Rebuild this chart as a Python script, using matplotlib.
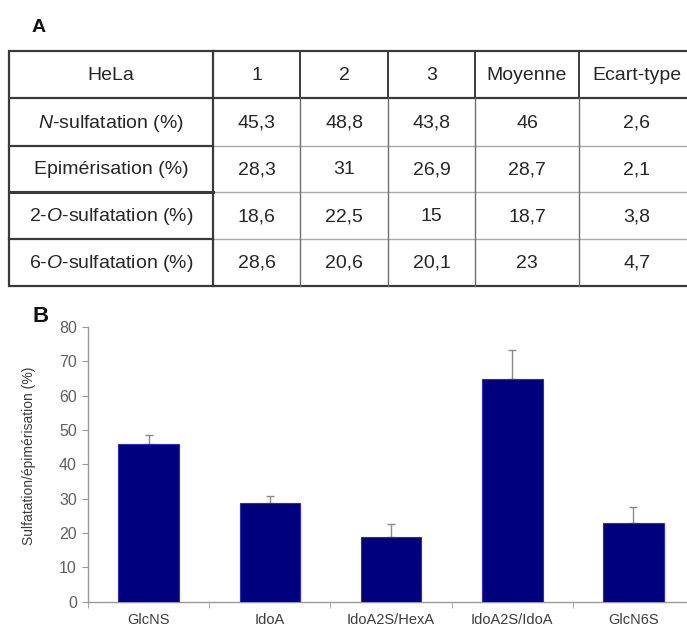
import matplotlib
matplotlib.use("Agg")
import matplotlib.pyplot as plt
import numpy as np

plt.rcParams['font.family'] = ['Liberation Sans', 'DejaVu Sans']
plt.rcParams['mathtext.fontset'] = 'custom'
plt.rcParams['mathtext.rm'] = 'Liberation Sans'
plt.rcParams['mathtext.it'] = 'Liberation Sans:italic'

# ---- Table data (panel A) ----
table_header = ["HeLa", "1", "2", "3", "Moyenne", "Ecart-type"]
row_labels = ["$\\mathit{N}$-sulfatation (%)", "Epimérisation (%)",
              "2-$\\mathit{O}$-sulfatation (%)", "6-$\\mathit{O}$-sulfatation (%)"]
rep1 = ["45,3", "28,3", "18,6", "28,6"]
rep2 = ["48,8", "31", "22,5", "20,6"]
rep3 = ["43,8", "26,9", "15", "20,1"]
moyenne = ["46", "28,7", "18,7", "23"]
ecart = ["2,6", "2,1", "3,8", "4,7"]

# ---- Bar data (panel B) ----
categories = ["GlcNS", "IdoA", "IdoA2S/HexA", "IdoA2S/IdoA", "GlcN6S"]
means = [46.0, 28.7, 18.7, 64.8, 23.0]
errors = [2.6, 2.1, 3.8, 8.6, 4.7]
yticks = [0, 10, 20, 30, 40, 50, 60, 70, 80]

W, H = 687, 626
fig = plt.figure(figsize=(W / 100, H / 100), dpi=100)

# overlay axes in pixel coords for the table
ov = fig.add_axes([0, 0, 1, 1])
ov.set_xlim(0, W)
ov.set_ylim(H, 0)
ov.axis('off')

col_x = [9, 213, 300, 388, 475, 579, 700]
row_y = [51, 98, 146, 192, 239, 286]
dark = '#3a3a3a'
light = '#a8a8a8'

# horizontal lines
for i, y in enumerate(row_y):
    if i in (0, 1, len(row_y) - 1):
        ov.plot([col_x[0], col_x[-1]], [y, y], color=dark, lw=1.6, solid_capstyle='butt')
    else:
        ov.plot([col_x[1], col_x[-1]], [y, y], color=light, lw=1.0)
        ov.plot([col_x[0], col_x[1]], [y, y], color=dark, lw=1.6 if i != 3 else 2.2)
# vertical lines
for j, x in enumerate(col_x[:-1]):
    if j <= 1:
        ov.plot([x, x], [row_y[0], row_y[-1]], color=dark, lw=1.6)
    else:
        ov.plot([x, x], [row_y[0], row_y[1]], color=dark, lw=1.4)
        ov.plot([x, x], [row_y[1], row_y[-1]], color='#707070', lw=1.0)

fs_tab = 14
cols = [row_labels, rep1, rep2, rep3, moyenne, ecart]
centers_x = [(col_x[j] + col_x[j + 1]) / 2 for j in range(6)]
centers_x[5] = 637
for j in range(6):
    ov.text(centers_x[j], (row_y[0] + row_y[1]) / 2 + 1, table_header[j],
            ha='center', va='center', fontsize=fs_tab, color='#262626')
    for i in range(4):
        ov.text(centers_x[j], (row_y[i + 1] + row_y[i + 2]) / 2 + 1, cols[j][i],
                ha='center', va='center', fontsize=fs_tab, color='#262626')

ov.text(32, 27, "A", fontsize=14, fontweight='bold', ha='left', va='center', color='#111111')
ov.text(32, 316, "B", fontsize=16, fontweight='bold', ha='left', va='center', color='#111111')

# ---- Bar chart ----
left = 88 / W
bottom = 1 - 601.7 / H
top = 1 - 327 / H
right = 694 / W
ax = fig.add_axes([left, bottom, right - left, top - bottom])
x = np.arange(len(categories))
ax.bar(x, means, width=0.5, color='#00007f', edgecolor='#2a2ad0', linewidth=0.8, zorder=3)
ax.errorbar(x, means, yerr=[np.zeros(len(errors)), errors], fmt='none',
            ecolor='#8a8a8a', elinewidth=1.0, capsize=3, capthick=1.0, zorder=2)
ax.set_xlim(-0.5, len(categories) - 0.5)
ax.set_ylim(0, 80)
ax.set_yticks(yticks)
ax.set_yticklabels([str(v) for v in yticks])
ax.set_xticks(x)
ax.set_xticklabels(categories)
ax.set_xticks(np.arange(len(categories) + 1) - 0.5, minor=True)
ax.tick_params(axis='x', which='major', length=0, pad=8, labelsize=10.5, labelcolor='#3c3c3c')
ax.tick_params(axis='x', which='minor', length=4, color='#999999', direction='out')
ax.tick_params(axis='y', length=4, color='#999999', direction='out', labelsize=11.5, labelcolor='#606060', pad=4)
for s in ['top', 'right']:
    ax.spines[s].set_visible(False)
for s in ['left', 'bottom']:
    ax.spines[s].set_color('#999999')
    ax.spines[s].set_linewidth(1.0)
ax.set_ylabel("Sulfatation/épimérisation (%)", fontsize=10, color='#3c3c3c', labelpad=12)
ax.yaxis.set_label_coords(-0.085, 0.53)

fig.savefig("out.png", dpi=100)
